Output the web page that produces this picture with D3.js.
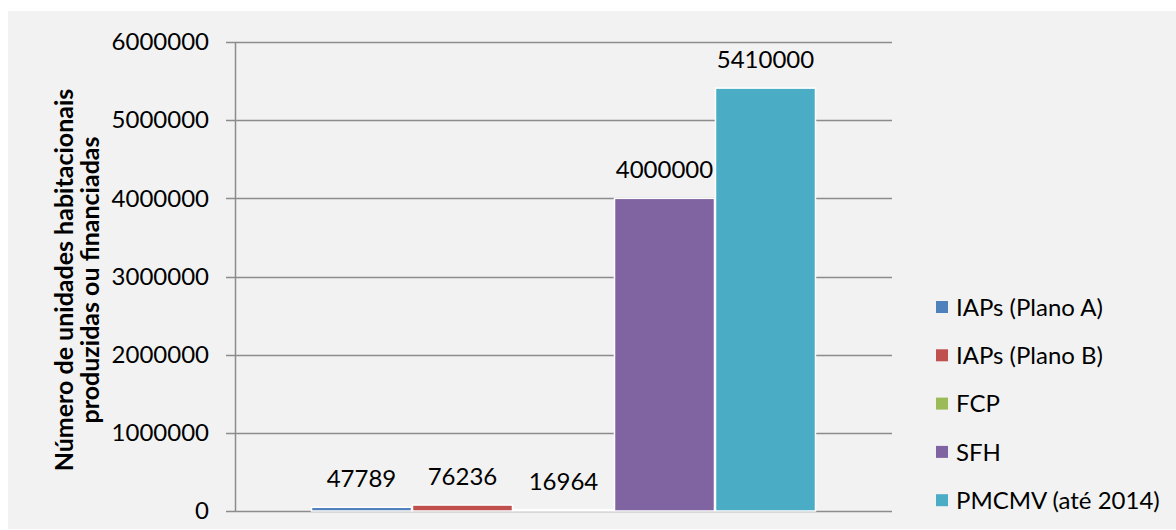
<!DOCTYPE html>
<html>
<head>
<meta charset="utf-8">
<script src="https://cdn.jsdelivr.net/npm/d3@7"></script>
<style>
  html, body { margin: 0; padding: 0; background: #ffffff; }
  svg { display: block; }
  text { font-family: Lato, "Open Sans", sans-serif; fill: #000; }
</style>
</head>
<body>
<div id="chart"></div>
<script>
const seriesNames = ["IAPs (Plano A)", "IAPs (Plano B)", "FCP", "SFH", "PMCMV (até 2014)"];
const seriesValues = [47789, 76236, 16964, 4000000, 5410000];
const seriesColors = ["#4F81BD", "#C0504D", "#9BBB59", "#8064A2", "#4BACC6"];
const yTicks = [0, 1000000, 2000000, 3000000, 4000000, 5000000, 6000000];
const categories = [""];
const yTitleLines = ["Número de unidades habitacionais", "produzidas ou financiadas"];

const W = 1176, H = 530;
const svg = d3.select("#chart").append("svg").attr("width", W).attr("height", H);

svg.append("rect").attr("x", 8).attr("y", 11).attr("width", W - 8).attr("height", H - 12)
  .attr("fill", "#F2F2F2");

const plotL = 235, plotR = 892, plotT = 42, plotB = 511;

const y = d3.scaleLinear().domain([0, 6000000]).range([plotB, plotT]);
const x0 = d3.scaleBand().domain(categories).range([plotL, plotR]).paddingInner(0).paddingOuter(0.1505);
const x1 = d3.scaleBand().domain(seriesNames).range([0, x0.bandwidth()]).padding(0);

// gridlines
svg.append("g").selectAll("line").data(yTicks).join("line")
  .attr("x1", plotL - 9).attr("x2", plotR)
  .attr("y1", d => Math.round(y(d)) + 0.5).attr("y2", d => Math.round(y(d)) + 0.5)
  .attr("stroke", "#8C8C8C").attr("stroke-width", 1.5);

// y axis line
svg.append("line").attr("x1", plotL + 0.5).attr("x2", plotL + 0.5)
  .attr("y1", plotT).attr("y2", plotB + 1)
  .attr("stroke", "#8C8C8C").attr("stroke-width", 1.5);

// y tick labels
const yAxis = d3.axisLeft(y).tickValues(yTicks).tickFormat(d3.format("d")).tickSize(0).tickPadding(26);
const ga = svg.append("g").attr("transform", `translate(${plotL},0)`).call(yAxis);
ga.select(".domain").remove();
ga.selectAll("text").style("font-family", "Lato, 'Open Sans', sans-serif").style("font-size", "24px").attr("fill", "#000");

// bars
const g = svg.append("g");
categories.forEach(cat => {
  const gc = g.append("g").attr("transform", `translate(${x0(cat)},0)`);
  gc.selectAll("rect").data(seriesNames.map((s, i) => ({s, v: seriesValues[i], c: seriesColors[i]})))
    .join("rect")
    .attr("x", d => x1(d.s) + 0.5)
    .attr("width", x1.bandwidth() - 1)
    .attr("y", d => y(d.v))
    .attr("height", d => Math.max(0, plotB - y(d.v)))
    .attr("fill", d => d.c)
    .attr("stroke", "#FFFFFF").attr("stroke-width", 1.5);
  gc.selectAll("text.lbl").data(seriesNames.map((s, i) => ({s, v: seriesValues[i]})))
    .join("text").attr("class", "lbl")
    .attr("x", d => x1(d.s) + x1.bandwidth() / 2)
    .attr("y", d => y(d.v) - 20)
    .attr("text-anchor", "middle")
    .style("font-size", "24px")
    .text(d => d.v);
});

// y title
const tt = svg.append("text")
  .attr("transform", `translate(73,280) rotate(-90)`)
  .attr("text-anchor", "middle")
  .style("font-size", "25px").style("font-weight", "bold");
yTitleLines.forEach((l, i) => {
  tt.append("tspan").attr("x", 0).attr("y", i * 26).text(l);
});

// legend
const legendY0 = 307, legendStep = 48.3;
const lg = svg.append("g");
seriesNames.forEach((s, i) => {
  const cy = legendY0 + i * legendStep;
  lg.append("rect").attr("x", 936).attr("y", cy - 6).attr("width", 12).attr("height", 12)
    .attr("fill", seriesColors[i]);
  lg.append("text").attr("x", 956).attr("y", cy).attr("dy", "0.36em")
    .style("font-size", "24px").text(s);
});
</script>
</body>
</html>
